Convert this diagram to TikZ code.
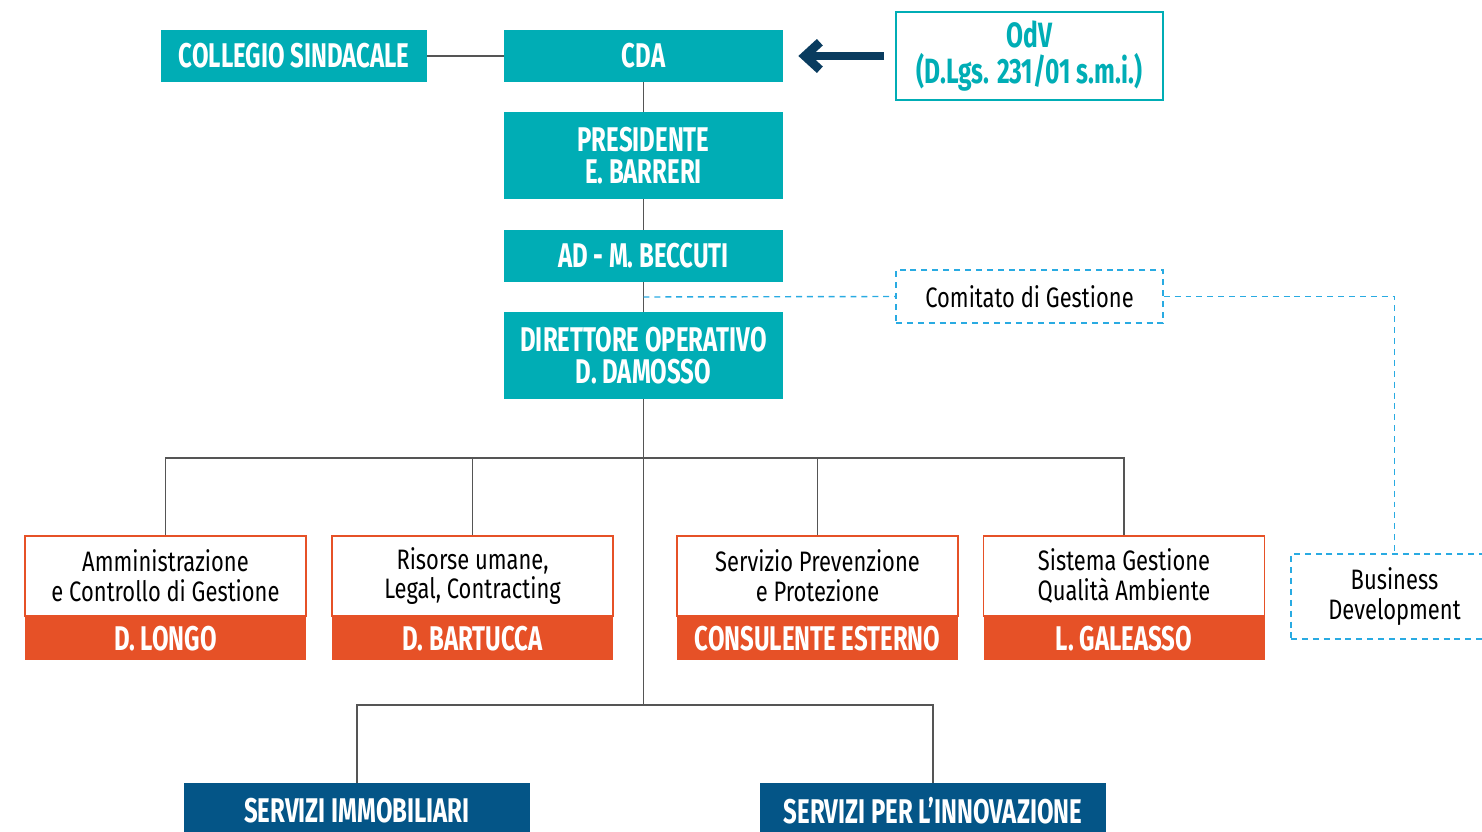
\documentclass[tikz,border=0pt]{standalone}
\usepackage{fontspec}
\setmainfont{Fira Sans}[FakeStretch=0.78]
\newfontfamily\headfont{Fira Sans}[FakeStretch=0.7]
\usepackage{xcolor}
\usetikzlibrary{arrows.meta, positioning}
\definecolor{boardteal}{RGB}{0,173,181}
\definecolor{unitorange}{RGB}{230,81,39}
\definecolor{servblue}{RGB}{4,85,135}
\definecolor{arrownavy}{RGB}{10,60,95}
\definecolor{dashblue}{RGB}{41,171,226}
\definecolor{linkgray}{RGB}{85,85,85}

\begin{document}
\begin{tikzpicture}[x=1cm, y=-1cm,
    head/.style={rectangle, fill=boardteal, text=white, minimum width=5.58cm, minimum height=1.04cm, align=center, inner sep=0pt, font=\headfont\bfseries\fontsize{19.5}{18.2}\selectfont},
    unit/.style={rectangle, draw=unitorange, line width=0.8pt, fill=white, minimum width=5.62cm, minimum height=1.6cm, align=center, inner sep=0pt, font=\fontsize{16}{17}\selectfont},
    lead/.style={rectangle, fill=unitorange, text=white, minimum width=5.62cm, minimum height=0.86cm, inner sep=0pt, font=\headfont\bfseries\fontsize{19.5}{19.5}\selectfont},
    serv/.style={rectangle, fill=servblue, text=white, minimum width=6.92cm, minimum height=1.1cm, inner sep=0pt, font=\headfont\bfseries\fontsize{19.5}{19.5}\selectfont},
    dbox/.style={rectangle, draw=dashblue, dash pattern=on 3.4pt off 2.8pt, line width=0.8pt, align=center, inner sep=0pt, font=\fontsize{16}{17}\selectfont},
    link/.style={draw=linkgray, line width=0.8pt},
    dlink/.style={draw=dashblue, dash pattern=on 3.4pt off 2.8pt, line width=0.8pt},
    arrow/.style={-{Straight Barb[length=0.3cm, width=0.55cm]}, line width=5pt, arrownavy}
]
\useasboundingbox (0,0) rectangle (29.64,16.64);

% Governance
\node[head] (cda) at (12.87,1.12) {CDA};
\node[head, minimum width=5.32cm] (coll) at (5.88,1.12) {COLLEGIO SINDACALE};
\node[rectangle, draw=boardteal, line width=1.1pt, text=boardteal, minimum width=5.34cm, minimum height=1.76cm, align=center, inner sep=0pt, font=\headfont\bfseries\fontsize{20}{20.5}\selectfont] (odv) at (20.59,1.12) {OdV\\(D.Lgs. 231/01 s.m.i.)};
\node[head, minimum height=1.74cm] (pres) at (12.87,3.11) {PRESIDENTE\\E. BARRERI};
\node[head] (ad) at (12.87,5.12) {AD - M. BECCUTI};
\node[head, minimum height=1.74cm] (dir) at (12.87,7.11) {DIRETTORE OPERATIVO\\D. DAMOSSO};

% Dashed side boxes
\node[dbox, minimum width=5.34cm, minimum height=1.06cm] (com) at (20.59,5.93) {Comitato di Gestione};
\node[dbox, minimum width=4.14cm, minimum height=1.70cm] (bd) at (27.89,11.93) {Business\\Development};

% Staff units
\node[unit] (amm) at (3.31,11.52) {Amministrazione\\e Controllo di Gestione};
\node[lead, below=0pt of amm] (ammlead) {D. LONGO};
\node[unit] (ris) at (9.45,11.52) {Risorse umane,\\Legal, Contracting};
\node[lead, below=0pt of ris] (rislead) {D. BARTUCCA};
\node[unit] (spp) at (16.35,11.52) {Servizio Prevenzione\\e Protezione};
\node[lead, below=0pt of spp] (spplead) {CONSULENTE ESTERNO};
\node[unit] (sgq) at (22.48,11.52) {Sistema Gestione\\Qualità Ambiente};
\node[lead, below=0pt of sgq] (sgqlead) {L. GALEASSO};

% Services
\node[serv] (imm) at (7.14,16.21) {SERVIZI IMMOBILIARI};
\node[serv] (inn) at (18.66,16.21) {SERVIZI PER L’INNOVAZIONE};

% Bus points
\coordinate (bus1) at (12.87,9.16);
\coordinate (bus2) at (12.87,14.1);
\coordinate (cg) at (12.87,5.94);

% Lines
\draw[link] (coll) -- (cda);
\draw[link] (cda) -- (pres);
\draw[link] (pres) -- (ad);
\draw[link] (ad) -- (dir);
\draw[link] (dir.south) -- (bus2);
\draw[link] (amm.north) |- (bus1);
\draw[link] (ris.north) |- (bus1);
\draw[link] (spp.north) |- (bus1);
\draw[link] (sgq.north) |- (bus1);
\draw[link] (imm.north) |- (bus2);
\draw[link] (inn.north) |- (bus2);

% Dashed links
\draw[dlink] (cg) -- (com.west);
\draw[dlink] (com.east) -| (bd.north);

% Supervision arrow
\draw[arrow] ([xshift=-0.22cm]odv.west) -- ([xshift=0.3cm]cda.east);

\end{tikzpicture}
\end{document}
